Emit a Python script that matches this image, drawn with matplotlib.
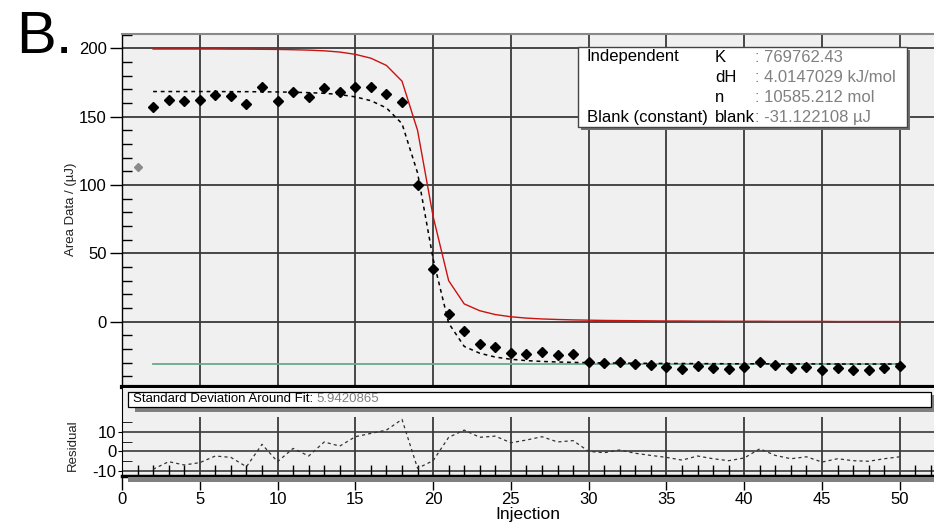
import numpy as np
import matplotlib
matplotlib.use('Agg')
import matplotlib.pyplot as plt
from matplotlib.patches import Rectangle
from matplotlib.ticker import MultipleLocator, FixedLocator

plt.rcParams['font.family'] = ['Liberation Sans', 'DejaVu Sans']
plt.rcParams['axes.unicode_minus'] = False

# ---- data ----
injection = list(range(2, 51))
area = [157.4, 162.3, 161.6, 162.3, 165.5, 165.0, 159.6, 171.5, 161.6, 168.1,
        164.2, 171.0, 168.1, 171.8, 171.5, 166.9, 160.4, 100.2, 38.2, 5.3,
        -6.6, -16.6, -18.5, -23.1, -23.6, -21.9, -24.3, -23.4, -29.7, -30.4,
        -29.2, -31.1, -31.9, -33.1, -34.3, -32.2, -33.8, -34.3, -33.1, -29.2,
        -31.8, -33.8, -33.1, -35.5, -33.6, -35.0, -35.0, -33.6, -32.6]
excluded_x = [1]
excluded_y = [113.0]
model = [199.5, 199.5, 199.5, 199.5, 199.5, 199.4, 199.4, 199.3, 199.2, 199.0,
         198.7, 198.2, 197.3, 195.6, 192.8, 187.5, 176.0, 140.0, 77.0, 30.0,
         13.0, 8.0, 5.2, 3.6, 2.6, 2.0, 1.6, 1.3, 1.1, 0.9,
         0.8, 0.7, 0.6, 0.5, 0.5, 0.4, 0.4, 0.3, 0.3, 0.3,
         0.2, 0.2, 0.2, 0.2, 0.1, 0.1, 0.1, 0.1, 0.1]
fit = [168.4, 168.4, 168.4, 168.4, 168.4, 168.3, 168.3, 168.2, 168.1, 167.9,
       167.6, 167.1, 166.2, 164.5, 161.7, 156.4, 144.9, 108.9, 45.9, -1.1,
       -18.1, -23.1, -25.9, -27.5, -28.5, -29.1, -29.5, -29.8, -30.0, -30.2,
       -30.3, -30.4, -30.5, -30.6, -30.6, -30.7, -30.7, -30.8, -30.8, -30.8,
       -30.9, -30.9, -30.9, -30.9, -31.0, -31.0, -31.0, -31.0, -31.0]
blank = -31.122108
residual = [-9.2, -5.3, -7.0, -5.8, -2.4, -3.1, -7.9, 3.6, -5.3, 1.5,
            -2.4, 4.8, 2.7, 7.5, 9.2, 10.9, 16.4, -8.7, -4.8, 7.2,
            10.9, 7.2, 7.8, 4.4, 5.8, 7.5, 4.8, 5.5, 0.0, -0.7,
            0.7, -1.0, -2.1, -3.1, -4.5, -2.4, -3.8, -4.8, -3.4, 1.3,
            -2.1, -3.8, -2.8, -5.5, -3.8, -4.8, -5.1, -3.8, -2.8]

param_names = ['K', 'dH', 'n', 'blank']
param_values = [': 769762.43', ': 4.0147029 kJ/mol', ': 10585.212 mol', ': -31.122108 \u00b5J']
std_dev = '5.9420865'

W, H = 934, 526
def fx(px):
    return px / W
def fy(py):
    return 1 - py / H

bg = '#f0f0f0'
grid_c = '#3a3a3a'

fig = plt.figure(figsize=(W / 100, H / 100), dpi=100)

#%% main panel
ax = fig.add_axes([fx(122), fy(387), (934 - 122) / W, (387 - 34) / H])
ax.set_facecolor(bg)
ax.set_xlim(0, 52.2)
ax.set_ylim(-47.8, 210.5)
for v in range(5, 55, 5):
    ax.axvline(v, color=grid_c, lw=1.3, zorder=1)
for v in range(0, 201, 50):
    ax.axhline(v, color=grid_c, lw=1.3, zorder=1)
ax.plot(injection, [blank] * len(injection), color='#6aa889', lw=1.3, zorder=2)
ax.plot(injection, model, color='#cc1111', lw=1.0, zorder=3)
ax.plot(injection, fit, color='black', lw=1.1, dashes=(2.5, 2.5), zorder=3)
ax.plot(injection, area, 'D', color='black', ms=5.2, zorder=4)
ax.plot(excluded_x, excluded_y, 'D', color='#8a8a8a', ms=4.5, zorder=4)

ax.yaxis.set_major_locator(MultipleLocator(50))
ax.yaxis.set_minor_locator(MultipleLocator(10))
ax.tick_params(axis='y', which='major', direction='out', length=9, width=1, labelsize=12, pad=2)
ax.tick_params(axis='y', which='minor', direction='in', length=7, width=1)
ax.tick_params(axis='x', which='both', length=0, labelbottom=False)
ax.spines['right'].set_visible(False)
ax.spines['top'].set_color('#888888')
ax.spines['top'].set_linewidth(1.5)
ax.spines['bottom'].set_linewidth(3)
ax.spines['left'].set_linewidth(1)
ax.set_ylabel('Area Data / (\u00b5J)', fontsize=9.5, color='#222222')
ax.yaxis.set_label_coords(-0.056, 0.504)

#%% residual panel
axr = fig.add_axes([fx(122), fy(475.5), (934 - 122) / W, (475.5 - 388) / H])
axr.set_facecolor(bg)
axr.set_xlim(0, 52.2)
axr.set_ylim(-12.4, 32.5)
for v in range(5, 55, 5):
    axr.vlines(v, -12.4, 17.6, color=grid_c, lw=1.3, zorder=1)
for v in (-10, 0, 10):
    axr.axhline(v, color=grid_c, lw=1.2, zorder=1)
axr.plot(injection, residual, color='#333333', lw=0.9, dashes=(2.5, 2.5), zorder=3)
axr.set_yticks([-10, 0, 10])
axr.yaxis.set_minor_locator(FixedLocator([-5, 5, 15]))
axr.xaxis.set_major_locator(MultipleLocator(5))
axr.xaxis.set_minor_locator(MultipleLocator(1))
axr.tick_params(axis='y', which='major', direction='out', length=3, labelsize=12, pad=1)
axr.tick_params(axis='y', which='minor', direction='in', length=7)
axr.tick_params(axis='x', which='major', direction='out', length=10, width=1, labelsize=12, pad=2)
axr.tick_params(axis='x', which='minor', direction='in', length=8, width=1)
axr.spines['right'].set_visible(False)
axr.spines['top'].set_visible(False)
axr.spines['bottom'].set_linewidth(2.5)
axr.set_ylabel('Residual', fontsize=9.5, color='#222222')
axr.yaxis.set_label_coords(-0.053, 0.35)
axr.set_xlabel('Injection', fontsize=12.5, labelpad=0)

# shadow band under residual axis
fig.add_artist(Rectangle((fx(128), fy(482)), fx(934) - fx(128), (482 - 477) / H,
                         transform=fig.transFigure, facecolor='#808080', edgecolor='none', zorder=0.5))

# std dev box
fig.add_artist(Rectangle((fx(135), fy(412)), fx(934) - fx(135), (412 - 395) / H,
                         transform=fig.transFigure, facecolor='#808080', edgecolor='none', zorder=2))
fig.add_artist(Rectangle((fx(128), fy(406.5)), fx(931) - fx(128), (406.5 - 391.5) / H,
                         transform=fig.transFigure, facecolor='white', edgecolor='black', lw=0.9, zorder=2.1))
t = fig.text(fx(133), fy(399.5), 'Standard Deviation Around Fit: ', fontsize=9.5, va='center', zorder=3)
fig.canvas.draw()
bb = t.get_window_extent()
fig.text(bb.x1 / W, fy(399.5), std_dev, fontsize=9.5, va='center', color='#808080', zorder=3)

#%% parameter box
fig.add_artist(Rectangle((fx(581), fy(130)), fx(910) - fx(581), (130 - 50) / H,
                         transform=fig.transFigure, facecolor='#707070', edgecolor='none', zorder=2))
fig.add_artist(Rectangle((fx(578), fy(127)), fx(907) - fx(578), (127 - 47) / H,
                         transform=fig.transFigure, facecolor='white', edgecolor='#444444', lw=1, zorder=2.1))
rows_y = [57, 77.5, 97.5, 117.5]
fig.text(fx(587), fy(rows_y[0]), 'Independent', fontsize=12, va='center', zorder=3)
fig.text(fx(587), fy(rows_y[3]), 'Blank (constant)', fontsize=12, va='center', zorder=3)
for name, val, yy in zip(param_names, param_values, rows_y):
    fig.text(fx(715), fy(yy), name, fontsize=12, va='center', zorder=3)
    fig.text(fx(755), fy(yy), val, fontsize=12, va='center', color='#808080', zorder=3)

fig.text(fx(16), fy(53), 'B.', fontsize=43, va='baseline', ha='left')

plt.savefig('out.png', dpi=100)
